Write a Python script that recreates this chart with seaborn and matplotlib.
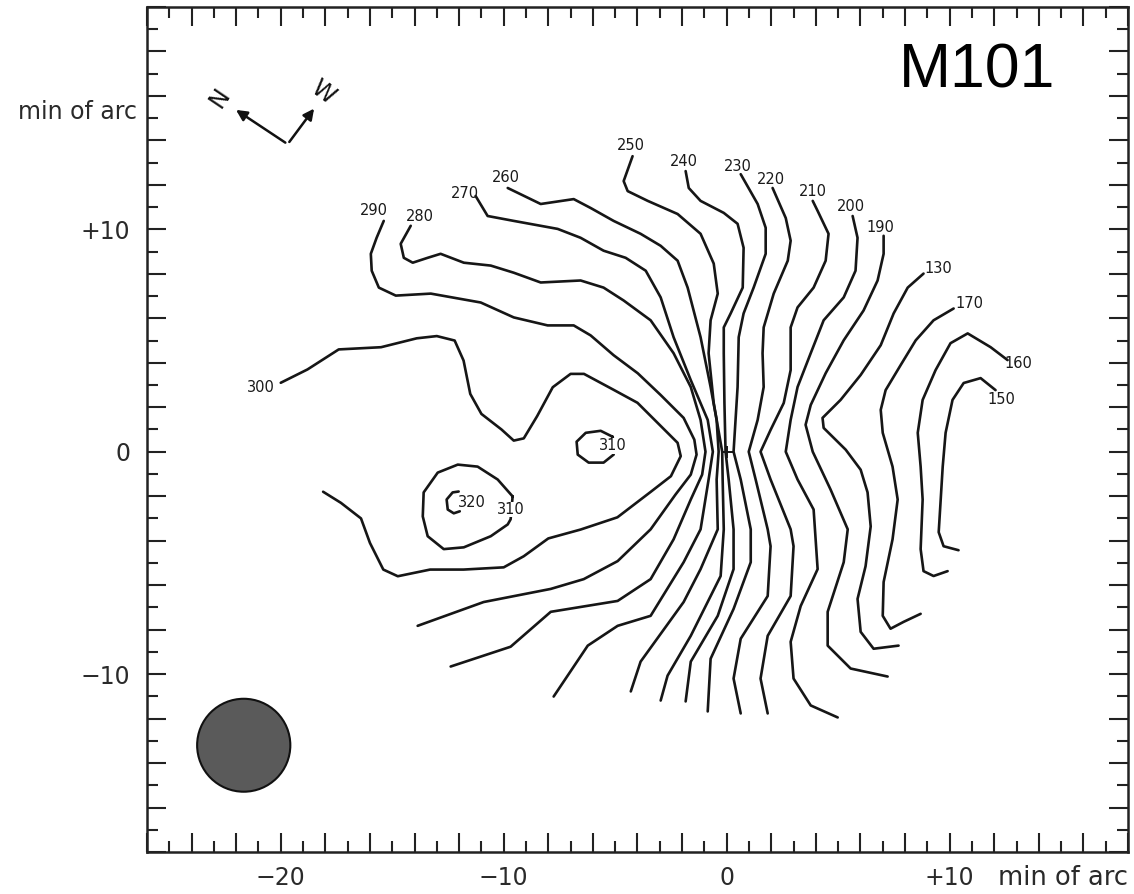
import numpy as np
import pandas as pd
import matplotlib
matplotlib.use("Agg")
import matplotlib.pyplot as plt
import seaborn as sns
from matplotlib.ticker import MultipleLocator, FuncFormatter
from matplotlib.patches import Circle

sns.set_theme(style="white")
plt.rcParams["font.family"] = ["DejaVu Sans"]

# ---- contour lines of the velocity field (x, y in min of arc) ----
c300 = [(-20.0, 3.1), (-18.8, 3.7), (-17.4, 4.6), (-15.5, 4.7), (-13.9, 5.1), (-13.0, 5.2), (-12.2, 5.0),
        (-11.8, 4.1), (-11.5, 2.6), (-11.0, 1.7), (-10.1, 1.0), (-9.55, 0.5), (-9.1, 0.6), (-8.5, 1.6),
        (-7.8, 2.9), (-7.0, 3.5), (-6.4, 3.5), (-5.1, 2.8), (-4.0, 2.2), (-3.1, 1.3), (-2.2, 0.4),
        (-2.06, -0.2), (-2.5, -1.1), (-3.4, -1.8), (-4.9, -2.95), (-6.55, -3.5), (-8.0, -3.9),
        (-9.1, -4.7), (-10.0, -5.2), (-11.8, -5.3), (-13.3, -5.3), (-14.75, -5.6), (-15.4, -5.3),
        (-16.0, -4.1), (-16.4, -3.0), (-17.3, -2.3), (-18.1, -1.8)]
c290 = [(-15.38, 10.38), (-15.7, 9.62), (-15.96, 8.90), (-15.92, 8.14), (-15.6, 7.38), (-14.84, 7.02),
        (-13.27, 7.11), (-11.03, 6.71), (-9.55, 6.04), (-8.03, 5.68), (-6.86, 5.68), (-6.10, 5.23),
        (-5.07, 4.34), (-3.99, 3.53), (-2.96, 2.55), (-1.93, 1.52), (-1.45, 0.54), (-1.35, -0.13),
        (-1.61, -1.03), (-2.29, -1.92), (-3.41, -3.49), (-4.89, -4.92), (-6.41, -5.73), (-7.89, -6.17),
        (-10.9, -6.76), (-13.86, -7.83)]
c280 = [(-14.17, 10.16), (-14.62, 9.35), (-14.48, 8.72), (-14.08, 8.50), (-13.41, 8.72), (-12.83, 8.90),
        (-11.79, 8.50), (-10.58, 8.37), (-9.55, 8.05), (-8.34, 7.61), (-6.55, 7.70), (-5.52, 7.38),
        (-4.62, 6.80), (-3.41, 5.91), (-2.38, 4.43), (-1.61, 2.91), (-1.17, 1.43), (-0.95, 0.0),
        (-1.10, -1.03), (-1.61, -2.15), (-2.38, -3.94), (-3.41, -5.73), (-4.89, -6.71), (-7.89, -7.20),
        (-9.69, -8.77), (-12.38, -9.66)]
c270 = [(-11.26, 11.50), (-10.72, 10.60), (-9.55, 10.38), (-7.58, 10.02), (-6.55, 9.62), (-5.52, 9.04),
        (-4.53, 8.72), (-3.63, 8.14), (-2.96, 6.94), (-2.38, 5.15), (-1.61, 3.22), (-0.85, 1.43),
        (-0.62, 0.0), (-0.81, -1.25), (-1.17, -3.49), (-1.93, -4.97), (-3.41, -7.38), (-4.89, -7.83),
        (-6.23, -8.72), (-7.76, -11.01)]
c260 = [(-9.82, 11.86), (-8.34, 11.14), (-6.86, 11.36), (-6.10, 10.96), (-5.07, 10.38), (-3.86, 9.80),
        (-2.96, 9.26), (-2.20, 8.59), (-1.75, 7.38), (-1.17, 5.15), (-0.72, 2.91), (-0.45, 1.43),
        (-0.36, 0.0), (-0.45, -1.25), (-0.40, -3.49), (-1.17, -5.28), (-1.93, -6.76), (-3.86, -9.44),
        (-4.30, -10.78)]
c250 = [(-4.22, 13.29), (-4.62, 12.17), (-4.44, 11.72), (-3.54, 11.28), (-2.20, 10.69), (-1.17, 9.80),
        (-0.58, 8.46), (-0.40, 7.11), (-0.72, 5.91), (-0.81, 4.43), (-0.58, 2.19), (-0.20, 0.0),
        (-0.18, -1.25), (-0.13, -3.49), (-0.27, -5.59), (-1.61, -8.28), (-2.65, -10.07), (-2.96, -11.19)]
c240 = [(-1.84, 12.62), (-1.70, 11.86), (-1.17, 11.28), (-0.13, 10.74), (0.49, 10.25), (0.76, 9.17),
        (0.72, 7.38), (0.18, 6.22), (-0.13, 5.59), (-0.13, 4.43), (-0.10, 2.19), (-0.05, 0.0),
        (0.09, -1.25), (0.31, -3.49), (0.31, -5.28), (-0.40, -7.38), (-1.61, -9.44), (-1.84, -11.23)]
c230 = [(0.63, 12.48), (1.39, 11.14), (1.75, 10.07), (1.75, 8.90), (1.21, 7.38), (0.76, 6.22),
        (0.54, 5.15), (0.49, 2.91), (0.31, 0.0), (0.63, -1.25), (1.08, -3.49), (1.08, -4.97),
        (0.31, -7.07), (-0.72, -9.31), (-0.85, -11.68)]
c220 = [(2.06, 11.86), (2.65, 10.51), (2.87, 9.49), (2.74, 8.59), (2.11, 7.11), (1.66, 5.59),
        (1.61, 4.43), (1.66, 2.91), (1.39, 1.43), (0.99, 0.0), (1.30, -1.25), (1.84, -3.49),
        (1.97, -4.25), (1.84, -6.49), (0.63, -8.41), (0.31, -10.20), (0.63, -11.77)]
c210 = [(3.86, 11.28), (4.08, 10.83), (4.57, 9.80), (4.44, 8.59), (3.90, 7.38), (3.18, 6.49),
        (2.87, 5.59), (2.87, 3.67), (2.56, 2.19), (1.97, 0.98), (1.52, 0.0), (1.97, -1.25),
        (2.87, -3.49), (3.0, -4.25), (2.87, -6.49), (1.84, -8.28), (1.52, -10.20), (1.84, -11.77)]
c200 = [(5.65, 10.60), (5.87, 9.62), (5.78, 8.14), (5.25, 6.94), (4.35, 5.91), (3.77, 4.43),
        (3.18, 2.91), (2.87, 1.43), (2.65, 0.0), (3.18, -1.25), (3.90, -2.60), (4.08, -5.28),
        (3.32, -6.94), (2.87, -8.55), (3.0, -10.20), (3.77, -11.41), (4.98, -11.95)]
c190 = [(7.04, 9.71), (7.04, 8.90), (6.77, 7.70), (6.14, 6.35), (5.25, 5.01), (4.44, 3.53),
        (3.77, 2.10), (3.54, 1.21), (3.86, 0.0), (4.66, -1.70), (5.43, -3.49), (5.25, -4.97),
        (4.53, -7.20), (4.53, -8.72), (5.56, -9.75), (7.22, -10.11)]
c180 = [(8.83, 8.01), (8.12, 7.38), (7.49, 6.22), (6.91, 4.79), (6.01, 3.45), (5.11, 2.33),
        (4.30, 1.52), (4.35, 1.07), (5.34, 0.09), (6.01, -0.81), (6.32, -1.83), (6.46, -3.36),
        (6.23, -5.15), (5.87, -6.62), (6.01, -8.10), (6.59, -8.86), (7.71, -8.72)]
c170 = [(10.18, 6.44), (9.28, 5.91), (8.48, 5.01), (7.80, 3.89), (7.13, 2.77), (6.91, 1.88),
        (7.0, 0.85), (7.44, -0.67), (7.67, -2.15), (7.44, -3.94), (7.04, -5.86), (7.0, -7.38),
        (7.35, -7.96), (7.94, -7.65), (8.70, -7.29)]
c160 = [(12.60, 4.12), (11.84, 4.70), (10.81, 5.32), (10.04, 4.88), (9.37, 3.67), (8.79, 2.33),
        (8.57, 0.85), (8.70, -0.67), (8.79, -2.15), (8.70, -4.38), (8.83, -5.37), (9.28, -5.59),
        (9.91, -5.37)]
c150 = [(12.06, 2.77), (11.39, 3.31), (10.63, 3.09), (10.13, 2.33), (9.82, 0.85), (9.69, -0.67),
        (9.60, -2.15), (9.51, -3.62), (9.73, -4.25), (10.40, -4.43)]
# closed loops
c310_east = [(-5.11, 0.67), (-5.65, 0.94), (-6.32, 0.85), (-6.73, 0.45), (-6.68, -0.13), (-6.19, -0.49),
             (-5.52, -0.49), (-5.07, -0.13)]
c310_west = [(-9.60, -2.01), (-10.27, -1.25), (-11.17, -0.67), (-12.06, -0.58), (-12.96, -0.94),
             (-13.59, -1.83), (-13.63, -2.91), (-13.41, -3.80), (-12.69, -4.38), (-11.79, -4.30),
             (-10.58, -3.80), (-9.82, -3.27), (-9.69, -3.04)]
c320 = [(-12.02, -1.79), (-12.29, -1.83), (-12.56, -2.15), (-12.51, -2.60), (-12.24, -2.77), (-11.97, -2.68)]

open_lines = [c300, c290, c280, c270, c260, c250, c240, c230, c220, c210, c200, c190, c180, c170, c160, c150]
closed_lines = [c310_east, c310_west]

# contour labels: text, x, y
label_text = ["300", "290", "280", "270", "260", "250", "240", "230", "220", "210", "200", "190",
              "130", "170", "160", "150", "310", "320", "310"]
label_x = [-20.9, -15.83, -13.77, -11.75, -9.91, -4.30, -1.93, 0.49, 1.97, 3.86, 5.56, 6.91,
           9.51, 10.90, 13.09, 12.33, -5.11, -11.43, -9.69]
label_y = [2.91, 10.83, 10.60, 11.59, 12.35, 13.78, 13.06, 12.84, 12.26, 11.72, 11.01, 10.07,
           8.23, 6.67, 3.98, 2.33, 0.27, -2.28, -2.60]

# axis ticks with labels
x_tick_values = [-20, -10, 0, 10]
x_tick_labels = ["\u221220", "\u221210", "0", "+10"]
y_tick_values = [10, 0, -10]
y_tick_labels = ["+10", "0", "\u221210"]

# beam (resolution) disc
beam_center = (-21.66, -13.2)
beam_radius = 2.09

fig = plt.figure(figsize=(11.34, 8.94), dpi=100)
ax = fig.add_axes([0.1296, 0.047, 0.8651, 0.9452])

line_color = "#161616"
line_kw = dict(sort=False, estimator=None, color=line_color, linewidth=1.9, ax=ax,
               solid_joinstyle="round", solid_capstyle="round")
for pts in open_lines:
    df = pd.DataFrame(pts, columns=["x", "y"])
    sns.lineplot(data=df, x="x", y="y", **line_kw)
for pts in closed_lines:
    df = pd.DataFrame(pts + [pts[0]], columns=["x", "y"])
    sns.lineplot(data=df, x="x", y="y", **line_kw)
df = pd.DataFrame(c320, columns=["x", "y"])
sns.lineplot(data=df, x="x", y="y", **line_kw)

for t, x, y in zip(label_text, label_x, label_y):
    ax.text(x, y, t, fontsize=10.5, ha="center", va="center", color="#1a1a1a",
            bbox=dict(facecolor="white", edgecolor="none", pad=0.3) if t in ("310", "320") else None)

# centre mark
ax.plot([0], [0], marker="+", markersize=9, color=line_color, mew=1.4)

# beam disc
ax.add_patch(Circle(beam_center, beam_radius, facecolor="#5a5a5a", edgecolor="#111", linewidth=1.5))

# compass
vertex = (-19.69, 13.83)
ax.annotate("", xy=(-22.11, 15.44), xytext=vertex,
            arrowprops=dict(arrowstyle="-|>", color="#111", lw=1.8, mutation_scale=16))
ax.annotate("", xy=(-18.43, 15.53), xytext=vertex,
            arrowprops=dict(arrowstyle="-|>", color="#111", lw=1.8, mutation_scale=16))
ax.text(-22.75, 15.9, "N", rotation=56, fontsize=17, ha="center", va="center", color="#111")
ax.text(-18.1, 16.15, "W", rotation=-36, fontsize=17, ha="center", va="center", color="#111")

ax.text(0.846, 0.924, "M101", transform=ax.transAxes, fontsize=45, ha="center", va="center",
        family="Liberation Sans", color="black")

ax.set_xlim(-26, 18)
ax.set_ylim(-18, 20)
ax.set_xlabel("")
ax.set_ylabel("")

ax.xaxis.set_major_locator(MultipleLocator(2))
ax.xaxis.set_minor_locator(MultipleLocator(1))
ax.yaxis.set_major_locator(MultipleLocator(2))
ax.yaxis.set_minor_locator(MultipleLocator(1))

def fmt_x(v, pos):
    for tv, tl in zip(x_tick_values, x_tick_labels):
        if abs(v - tv) < 1e-6:
            return tl
    return ""

def fmt_y(v, pos):
    for tv, tl in zip(y_tick_values, y_tick_labels):
        if abs(v - tv) < 1e-6:
            return tl
    return ""

ax.xaxis.set_major_formatter(FuncFormatter(fmt_x))
ax.yaxis.set_major_formatter(FuncFormatter(fmt_y))
ax.tick_params(which="both", direction="in", top=True, right=True, bottom=True, left=True,
               color="#222", width=1.5, labelsize=17, labelcolor="#2a2a2a")
ax.tick_params(which="major", length=14)
ax.tick_params(which="minor", length=8)
ax.tick_params(axis="x", which="major", pad=10)
ax.tick_params(axis="y", which="major", pad=12)
for s in ax.spines.values():
    s.set_visible(True)
    s.set_color("#222")
    s.set_linewidth(1.8)

ax.text(1.0, -0.031, "min of arc", transform=ax.transAxes, ha="right", va="center",
        fontsize=18.5, color="#2a2a2a")
ax.text(-0.0102, 0.876, "min of arc", transform=ax.transAxes, ha="right", va="center",
        fontsize=17, color="#2a2a2a")

fig.savefig("out.png", dpi=100, facecolor="white")
